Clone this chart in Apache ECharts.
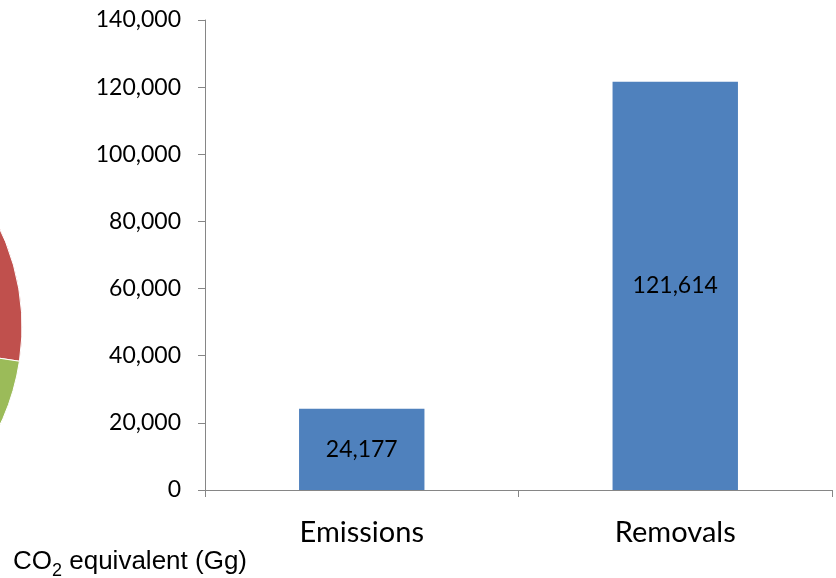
<!DOCTYPE html>
<html>
<head>
<meta charset="utf-8">
<script src="https://cdn.jsdelivr.net/npm/echarts@6/dist/echarts.min.js"></script>
<style>
html,body{margin:0;padding:0;background:#fff;}
#chart{width:836px;height:578px;}
</style>
</head>
<body>
<div id="chart"></div>
<script>
// Bar chart data
var categories = ['Emissions', 'Removals'];
var values = [24177, 121614];
var yTicks = [0, 20000, 40000, 60000, 80000, 100000, 120000, 140000];

// Cropped pie fragment on the left edge (only part visible)
var pieNames = ['Slice 1', 'Slice 2', 'Slice 3', 'Slice 4'];
var pieValues = [50, 48.6, 60, 201.4];
var pieColors = ['#4F81BD', '#C0504D', '#9BBB59', '#8064A2'];

var chart = echarts.init(document.getElementById('chart'), null, {renderer: 'canvas'});

function fmt(v) {
  return v.toLocaleString('en-US');
}

var option = {
  animation: false,
  backgroundColor: '#fff',
  title: {
    left: 13,
    top: 549,
    padding: 0,
    text: '{n|CO}{s|2}{n| equivalent (Gg)}',
    textStyle: {
      fontWeight: 'normal',
      rich: {
        n: {fontFamily: 'Liberation Sans', fontSize: 26, fontWeight: 'normal', color: '#000', lineHeight: 31, verticalAlign: 'top'},
        s: {fontFamily: 'Liberation Sans', fontSize: 18, fontWeight: 'normal', color: '#000', lineHeight: 31, verticalAlign: 'bottom'}
      }
    }
  },
  grid: {left: 205, right: 4, top: 20, bottom: 88, containLabel: false},
  xAxis: {
    type: 'category',
    data: categories,
    axisLine: {lineStyle: {color: '#868686', width: 1}},
    axisTick: {show: true, length: 7, lineStyle: {color: '#868686'}},
    axisLabel: {color: '#000', fontFamily: 'Lato', fontSize: 29, margin: 28}
  },
  yAxis: {
    type: 'value',
    min: yTicks[0],
    max: yTicks[yTicks.length - 1],
    interval: yTicks[1] - yTicks[0],
    splitLine: {show: false},
    axisLine: {show: true, lineStyle: {color: '#868686', width: 1}},
    axisTick: {show: true, length: 7, lineStyle: {color: '#868686'}},
    axisLabel: {color: '#000', fontFamily: 'Lato', fontSize: 23, margin: 24, formatter: fmt}
  },
  series: [
    {
      type: 'bar',
      data: values,
      barWidth: '40%',
      itemStyle: {color: '#4F81BD'},
      label: {
        show: true,
        position: 'inside',
        color: '#000',
        fontFamily: 'Lato',
        fontSize: 23,
        formatter: function (p) { return fmt(p.value); }
      }
    },
    {
      type: 'pie',
      center: [-207, 327],
      radius: 229,
      startAngle: 90,
      clockwise: true,
      silent: true,
      label: {show: false},
      labelLine: {show: false},
      itemStyle: {borderColor: '#fff', borderWidth: 1},
      data: pieNames.map(function (n, i) {
        return {name: n, value: pieValues[i], itemStyle: {color: pieColors[i]}};
      })
    }
  ]
};
chart.setOption(option);
</script>
</body>
</html>
